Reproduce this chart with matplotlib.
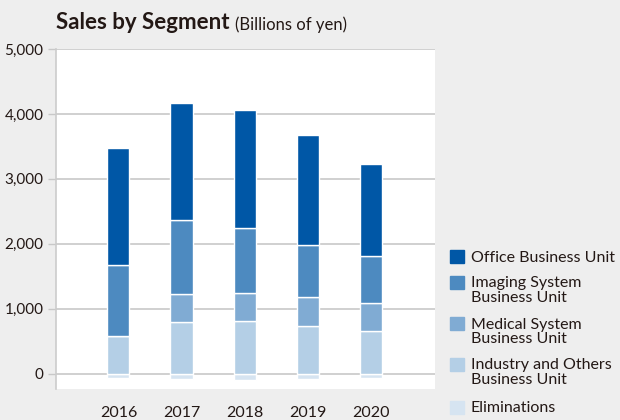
import numpy as np
import matplotlib.pyplot as plt
from matplotlib.patches import Rectangle

# data (billions of yen)
years = ['2016', '2017', '2018', '2019', '2020']
industry = [585, 795, 805, 733, 651]
medical = [0, 436, 441, 441, 441]
imaging = [1092, 1138, 1005, 811, 713]
office = [1800, 1800, 1811, 1692, 1431]
eliminations = [-72, -82, -97, -82, -72]

legend_labels = ['Office Business Unit', 'Imaging System\nBusiness Unit',
                 'Medical System\nBusiness Unit', 'Industry and Others\nBusiness Unit',
                 'Eliminations']
colors = ['#0057a6', '#4d8ac0', '#80abd3', '#b4cfe6', '#d6e4f1']

plt.rcParams['font.family'] = ['Lato', 'DejaVu Sans']
txt_color = '#231815'

fig = plt.figure(figsize=(6.2, 4.2), dpi=100, facecolor='#eeeeee')
ax = fig.add_axes([56 / 620, 31 / 420, 379 / 620, 340 / 420])
ax.set_facecolor('white')

x = np.arange(len(years))
w = 0.35
ind = np.array(industry)
med = np.array(medical)
img = np.array(imaging)
off = np.array(office)

kw = dict(width=w, edgecolor='white', linewidth=1, zorder=3)
ax.bar(x, eliminations, color=colors[4], **kw)
ax.bar(x, ind, color=colors[3], **kw)
ax.bar(x, med, bottom=ind, color=colors[2], **kw)
ax.bar(x, img, bottom=ind + med, color=colors[1], **kw)
ax.bar(x, off, bottom=ind + med + img, color=colors[0], **kw)

ax.set_xlim(-0.99, 5.02)
ax.set_ylim(-236, 5000)
ax.set_yticks(range(0, 5001, 1000))
ax.set_yticklabels([f'{v:,}' for v in range(0, 5001, 1000)])
ax.set_xticks(x)
ax.set_xticklabels(years)
ax.grid(axis='y', color='#c8c8c8', linewidth=1.2, zorder=0)
for s in ['top', 'right', 'bottom']:
    ax.spines[s].set_visible(False)
ax.spines['left'].set_color('#cccccc')
ax.spines['left'].set_linewidth(1.2)
ax.tick_params(axis='y', length=6, color='#c8c8c8', width=1, pad=3,
               labelsize=11, labelcolor=txt_color)
ax.tick_params(axis='x', length=0, pad=12, labelsize=11.5, labelcolor=txt_color)

# title
t1 = fig.text(56 / 620, 1 - 29 / 420, 'Sales by Segment', fontsize=16,
              fontweight='bold', color=txt_color, va='baseline')
ax.annotate('(Billions of yen)', xy=(1, 0), xycoords=t1, xytext=(4, 0),
            textcoords='offset points', va='bottom', fontsize=12, color=txt_color)

# legend, patch lined up with the first line of each label
tops = [250, 276, 317, 358, 401]
for lab, c, yt in zip(legend_labels, colors, tops):
    fig.patches.append(Rectangle((450 / 620, 1 - (yt + 13) / 420), 14 / 620, 13 / 420,
                                 transform=fig.transFigure, color=c))
    fig.text(471 / 620, 1 - (yt + 0.5) / 420, lab, fontsize=11.5, color=txt_color,
             va='top', linespacing=1.05)

fig.savefig('out.png', dpi=100, facecolor=fig.get_facecolor())
